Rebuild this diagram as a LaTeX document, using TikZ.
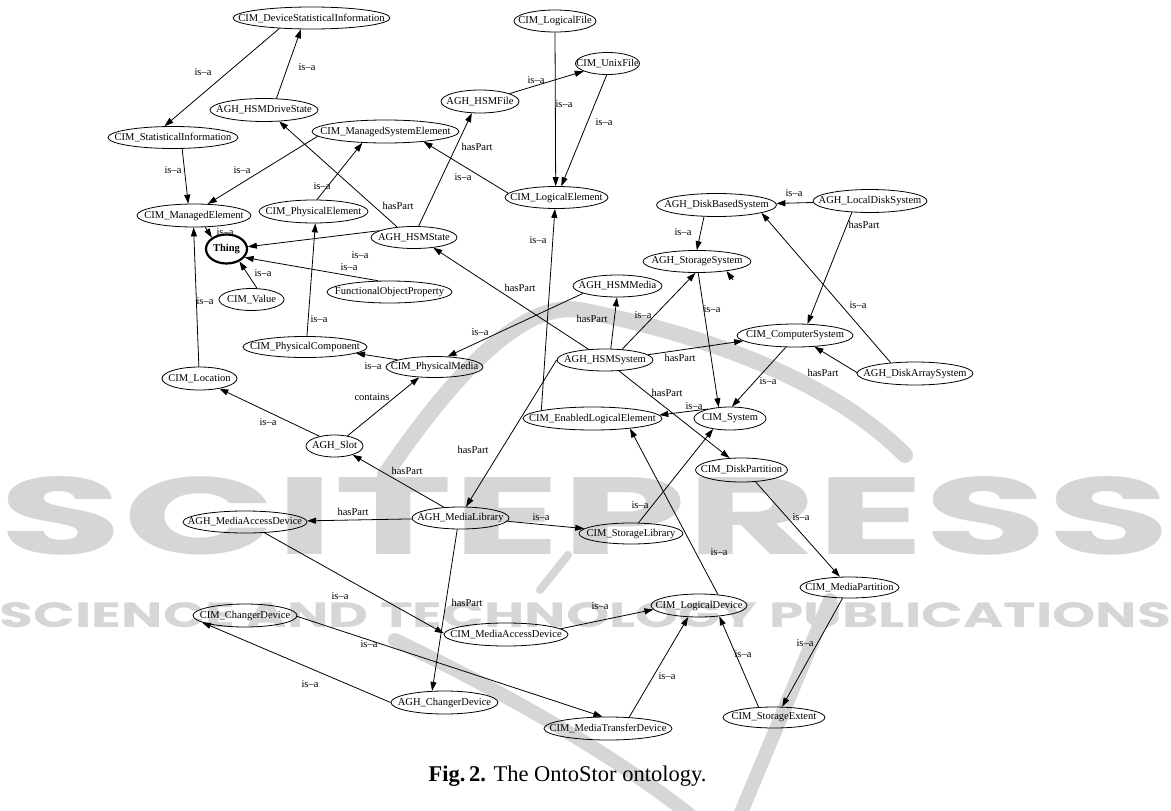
\documentclass[tikz,border=0pt]{standalone}
\usepackage{fontspec}
\usepackage{graphicx}
\setmainfont{Liberation Serif}
\newfontfamily\wmfont{Poppins}
\usetikzlibrary{shapes.geometric,arrows.meta}
\newcommand\entfont{\fontsize{10.5}{12}\selectfont}
\definecolor{wm}{gray}{0.84}
\tikzset{
  ent/.style={draw, ellipse, inner sep=0pt, line width=0.8pt, font=\entfont},
  lbl/.style={font=\entfont, inner sep=0pt},
  conn/.style={line width=0.8pt, -{Triangle[length=9pt,width=6pt]}},
  wmline/.style={draw=wm, line width=14pt, line cap=round}
}
\newcommand\ent[6]{\node[ent, minimum width=#4pt, minimum height=#5pt] (#1) at (#2,#3) {\makebox[0pt]{#6}};}
\begin{document}
\begin{tikzpicture}[x=1pt,y=-1pt]
\useasboundingbox (0,0) rectangle (1171,811);
% watermark
\draw[wmline, line width=16pt] (385,475) .. controls (450,380) and (520,300) .. (580,310) .. controls (680,330) and (820,370) .. (905,455);
\draw[wmline, line width=8pt] (540,590) -- (568,555);
\draw[wmline] (395,640) .. controls (520,700) and (620,760) .. (690,815);
\draw[wmline] (830,600) -- (740,815);
\node[text=wm, inner sep=0pt] (wm1) at (585.5,516) {\resizebox{1171pt}{78pt}{\wmfont\bfseries SCITEPRESS}};
\node[text=wm, inner sep=0pt] (wm2) at (585.5,615.5) {\resizebox{1171pt}{25pt}{\wmfont\bfseries SCIENCE AND TECHNOLOGY PUBLICATIONS}};
% nodes
\ent{DSI}{311.5}{18}{157}{22}{CIM\_DeviceStatisticalInformation}
\ent{HDS}{264}{110}{108}{23}{AGH\_HSMDriveState}
\ent{SI}{173}{137.5}{130}{22}{CIM\_StatisticalInformation}
\ent{MSE}{385.5}{131.5}{147}{23}{CIM\_ManagedSystemElement}
\ent{ME}{194}{215.5}{114}{23}{CIM\_ManagedElement}
\ent{PE}{313.5}{211.5}{109}{23}{CIM\_PhysicalElement}
\node[ent, line width=2.2pt, minimum width=41pt, minimum height=29pt, font=\entfont\bfseries] (Thing) at (226.5,249) {\makebox[0pt]{Thing}};
\ent{HST}{414}{237.5}{86}{22}{AGH\_HSMState}
\ent{Val}{251.5}{299.5}{65}{22}{CIM\_Value}
\ent{FOP}{389.5}{292}{125}{22}{FunctionalObjectProperty}
\ent{LF}{555}{21}{82}{22}{CIM\_LogicalFile}
\ent{UF}{607.5}{63.5}{64}{22}{CIM\_UnixFile}
\ent{HFile}{480}{101.5}{78}{23}{AGH\_HSMFile}
\ent{LE}{556.5}{197.5}{103}{22}{CIM\_LogicalElement}
\ent{DBS}{716.5}{205}{120}{23}{AGH\_DiskBasedSystem}
\ent{LDS}{870}{201}{114}{23}{AGH\_LocalDiskSystem}
\ent{SS}{697}{261.5}{108}{22}{AGH\_StorageSystem}
\ent{HMedia}{617.5}{286}{89}{22}{AGH\_HSMMedia}
\ent{CS}{795}{335.5}{116}{23}{CIM\_ComputerSystem}
\ent{HSys}{605}{360}{96}{22}{AGH\_HSMSystem}
\ent{PC}{305}{347}{124}{21}{CIM\_PhysicalComponent}
\ent{PM}{434.5}{367}{97}{21}{CIM\_PhysicalMedia}
\ent{Loc}{199.5}{378.5}{75}{23}{CIM\_Location}
\ent{DAS}{915}{373.5}{116}{23}{AGH\_DiskArraySystem}
\ent{ELE}{592.5}{418.5}{139}{23}{CIM\_EnabledLogicalElement}
\ent{Sys}{730}{418.5}{72}{23}{CIM\_System}
\ent{Slot}{334.5}{446}{57}{22}{AGH\_Slot}
\ent{DP}{741.5}{470}{92}{24}{CIM\_DiskPartition}
\ent{AMAD}{245}{522}{124}{22}{AGH\_MediaAccessDevice}
\ent{ML}{460.5}{518}{97}{22}{AGH\_MediaLibrary}
\ent{SL}{631}{533.5}{104}{21}{CIM\_StorageLibrary}
\ent{MP}{849.5}{587.5}{99}{21}{CIM\_MediaPartition}
\ent{LD}{699}{605.5}{96}{23}{CIM\_LogicalDevice}
\ent{CCD}{245}{615.5}{104}{23}{CIM\_ChangerDevice}
\ent{CMAD}{506}{634.5}{124}{23}{CIM\_MediaAccessDevice}
\ent{ACD}{444.5}{702.5}{107}{23}{AGH\_ChangerDevice}
\ent{MTD}{608}{728.5}{128}{23}{CIM\_MediaTransferDevice}
\ent{SE}{774}{717.5}{102}{21}{CIM\_StorageExtent}
% connectors
\draw[conn] (DSI.198) -- (SI.127);
\draw[conn] (HDS.43) -- (DSI.227);
\draw[conn] (SI.309) -- (ME.116);
\draw[conn] (MSE.184) -- (ME.40);
\draw[conn] (PE.74) -- (MSE.206);
\draw[conn] (HST.148) -- (HDS.323);
\draw[conn] (HST.68) -- (HFile.235);
\draw[conn] (ME.314) -- (Thing.142);
\draw[conn] (HST.169) -- (Thing.6);
\draw[conn] (Val.64) -- (Thing.316);
\draw[conn] (FOP.135) -- (Thing.335);
\draw[conn] (Loc.93) -- (ME.268);
\draw[conn] (PC.80) -- (PE.279);
\draw[conn] (PM.169) -- (PC.353);
\draw[conn] (HMedia.192) -- (PM.39);
\draw[conn] (Slot.147) -- (Loc.333);
\draw[conn] (Slot.38) -- (PM.214);
\draw[conn] (ML.147) -- (Slot.334);
\draw[conn] (HSys.180) -- (ML.64);
\draw[conn] (HSys.147) -- (HST.332);
\draw[conn] (HSys.63) -- (HMedia.267);
\draw[conn] (HSys.32) -- (SS.262);
\draw[conn] (HSys.7) -- (CS.186);
\draw[conn] (HSys.322) -- (DP.135);
\draw[conn] (ELE.171) -- (LE.262);
\draw[conn] (LE.175) -- (MSE.345);
\draw[conn] (LF.270) -- (LE.94);
\draw[conn] (UF.266) -- (LE.67);
\draw[conn] (HFile.15) -- (UF.198);
\draw[conn] (LDS) -- (DBS);
\draw[conn] (LDS.212) -- (CS.43);
\draw[conn] (DAS.156) -- (DBS.350);
\draw[conn] (DAS.179) -- (CS.330);
\draw[conn] (DBS.223) -- (SS.91);
\draw[conn] (SS.276) -- (Sys.135);
\draw[conn] (CS.232) -- (Sys.81);
\draw[conn] (Sys.157) -- (ELE.3);
\coordinate (ssx) at (733,280);
\draw[conn] (ssx) -- (SS.342);
\draw[conn] (SL.55) -- (Sys.212);
\draw[conn] (ML.356) -- (SL.174);
\draw[conn] (ML) -- (AMAD);
\draw[conn] (ML.254) -- (ACD.137);
\draw[conn] (AMAD.331) -- (CMAD.179);
\draw[conn] (CMAD.6) -- (LD.185);
\draw[conn] (ACD.180) -- (CCD.189);
\draw[conn] (CCD.359) -- (MTD.115);
\draw[conn] (MTD.28) -- (LD.227);
\draw[conn] (SE.146) -- (LD.332);
\draw[conn] (LD.30) -- (ELE.345);
\draw[conn] (DP.320) -- (MP.132);
\draw[conn] (MP.237) -- (SE.53);
% labels
\node[lbl] (l1) at (203,72) {is--a};
\node[lbl] (l2) at (307,67) {is--a};
\node[lbl] (l3) at (173,170) {is--a};
\node[lbl] (l4) at (242,170) {is--a};
\node[lbl] (l5) at (322,186) {is--a};
\node[lbl] (l6) at (398,206) {hasPart};
\node[lbl] (l7) at (477,147) {hasPart};
\node[lbl] (l8) at (225,232) {is--a};
\node[lbl] (l9) at (360,255) {is--a};
\node[lbl] (l10) at (263,273) {is--a};
\node[lbl] (l11) at (349,267) {is--a};
\node[lbl] (l12) at (205,301) {is--a};
\node[lbl] (l13) at (319,319) {is--a};
\node[lbl] (l14) at (373,366) {is--a};
\node[lbl] (l15) at (480,332) {is--a};
\node[lbl] (l16) at (268,422) {is--a};
\node[lbl] (l17) at (372,397) {contains};
\node[lbl] (l18) at (407,471) {hasPart};
\node[lbl] (l19) at (473,450) {hasPart};
\node[lbl] (l20) at (520,288) {hasPart};
\node[lbl] (l21) at (592,319) {hasPart};
\node[lbl] (l22) at (643,315) {is--a};
\node[lbl] (l23) at (680,358) {hasPart};
\node[lbl] (l24) at (667,393) {hasPart};
\node[lbl] (l25) at (538,240) {is--a};
\node[lbl] (l26) at (463,177) {is--a};
\node[lbl] (l27) at (564,104) {is--a};
\node[lbl] (l28) at (604,122) {is--a};
\node[lbl] (l29) at (536,80) {is--a};
\node[lbl] (l30) at (794,193) {is--a};
\node[lbl] (l31) at (864,225) {hasPart};
\node[lbl] (l32) at (858,305) {is--a};
\node[lbl] (l33) at (823,373) {hasPart};
\node[lbl] (l34) at (683,232) {is--a};
\node[lbl] (l35) at (712,309) {is--a};
\node[lbl] (l36) at (768,381) {is--a};
\node[lbl] (l37) at (694,406) {is--a};
\node[lbl] (l39) at (640,505) {is--a};
\node[lbl] (l40) at (541,517) {is--a};
\node[lbl] (l41) at (353,512) {hasPart};
\node[lbl] (l42) at (467,603) {hasPart};
\node[lbl] (l43) at (340,596) {is--a};
\node[lbl] (l44) at (600,606) {is--a};
\node[lbl] (l45) at (310,684) {is--a};
\node[lbl] (l46) at (369,644) {is--a};
\node[lbl] (l47) at (667,676) {is--a};
\node[lbl] (l48) at (743,654) {is--a};
\node[lbl] (l49) at (719,552) {is--a};
\node[lbl] (l50) at (801,517) {is--a};
\node[lbl] (l51) at (805,643) {is--a};
% caption
\node[anchor=base, inner sep=0pt, font=\fontsize{22.5}{26}\selectfont] (cap) at (567.5,781) {\textbf{Fig.\,2.} The OntoStor ontology.};
\end{tikzpicture}
\end{document}
